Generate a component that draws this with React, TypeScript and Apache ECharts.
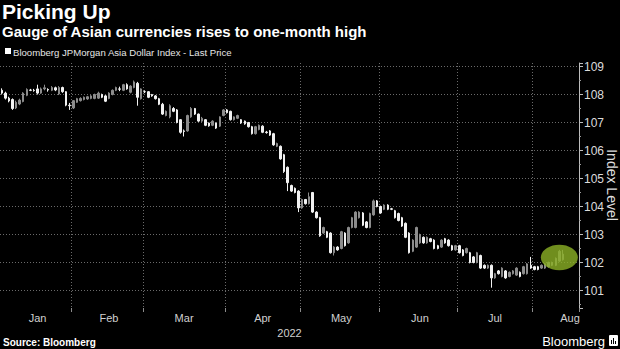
import React, { useEffect, useRef } from "react";
import * as echarts from "echarts";

// ---- data (weekday candles from Jan 4 to Aug 11, 2022) ----
const monthNames = ["Jan", "Feb", "Mar", "Apr", "May", "Jun", "Jul", "Aug"];
const monthWeekdays = [20, 20, 23, 21, 22, 22, 21, 13];
const monthLabelOffsets = [10, 10, 11, 10, 11, 11, 10, 10];
const yearLabel = "2022";
const yAxisTitle = "Index Level";

const openPrices = [
  108.15, 108.05, 107.87, 107.82, 107.52, 107.66, 107.75, 107.97, 108.16, 108.15,
  108.2, 108.05, 108.2, 108.18, 108.15, 108.24, 108.02, 108.25, 108.1, 107.62,
  107.52, 107.72, 107.78, 107.82, 107.84, 107.86, 107.86, 107.87, 108.0, 107.95,
  107.86, 108.0, 108.15, 108.2, 108.15, 108.35, 108.08, 108.25, 108.4, 107.85,
  108.1, 108.1, 108.0, 107.95, 107.85, 107.65, 107.25, 107.2, 107.5, 107.45,
  107.1, 106.7, 106.7, 107.2, 107.5, 107.3, 107.05, 107.1, 106.98, 106.9,
  106.98, 106.87, 107.25, 107.45, 107.4, 107.1, 107.15, 107.1, 107.05, 107.0,
  106.85, 106.6, 106.75, 106.87, 106.66, 106.7, 106.6, 106.15, 106.15, 105.85,
  105.4, 104.75, 104.65, 104.55, 103.95, 104.25, 104.1, 104.5, 103.8, 103.6,
  103.05, 103.1, 103.05, 102.35, 102.55, 102.5, 103.05, 102.7, 103.25, 103.25,
  103.6, 103.77, 103.45, 103.25, 103.7, 104.2, 104.0, 103.9, 104.05, 103.92,
  103.85, 103.75, 103.6, 103.4, 103.05, 102.4, 102.55, 102.7, 102.9, 102.7,
  102.85, 102.8, 102.6, 102.55, 102.85, 102.8, 102.6, 102.45, 102.6, 102.45,
  102.35, 102.35, 102.2, 102.0, 102.25, 101.9, 101.8, 101.9, 101.45, 101.7,
  101.5, 101.7, 101.5, 101.6, 101.55, 101.65, 101.6, 101.6, 101.9, 101.85,
  101.85, 101.8, 101.8, 101.85, 101.9, 101.9, 102.05, 102.1,
];
const closePrices = [
  108.05, 107.87, 107.77, 107.5, 107.72, 107.8, 108.05, 108.18, 108.15, 108.14,
  108.05, 108.2, 108.24, 108.16, 108.25, 108.16, 108.25, 108.1, 107.62, 107.6,
  107.78, 107.85, 107.86, 107.9, 107.92, 107.95, 108.0, 108.05, 107.9, 107.76,
  108.05, 108.15, 108.25, 108.19, 108.35, 108.2, 108.3, 108.45, 107.9, 108.2,
  108.1, 107.9, 107.95, 107.85, 107.65, 107.3, 107.4, 107.6, 107.4, 107.0,
  106.65, 106.68, 107.25, 107.5, 107.3, 107.05, 107.15, 106.9, 106.88, 107.05,
  106.8, 107.2, 107.45, 107.35, 107.1, 107.2, 107.25, 106.98, 106.95, 106.85,
  106.6, 106.85, 106.9, 106.65, 106.64, 106.55, 106.2, 106.25, 105.7, 105.25,
  104.85, 104.55, 104.5, 103.95, 104.25, 104.1, 104.35, 103.8, 103.6, 102.95,
  103.25, 102.9, 102.35, 102.55, 102.45, 103.1, 102.6, 103.25, 103.6, 103.8,
  103.8, 103.33, 103.25, 103.75, 104.2, 104.0, 103.77, 104.05, 103.9, 103.9,
  103.6, 103.5, 103.3, 102.9, 102.35, 102.8, 103.25, 103.0, 102.7, 102.9,
  102.75, 102.5, 102.5, 102.8, 102.7, 102.6, 102.45, 102.6, 102.35, 102.25,
  102.5, 102.0, 102.0, 102.35, 101.8, 101.8, 101.9, 101.45, 101.6, 101.6,
  101.8, 101.45, 101.65, 101.7, 101.8, 101.5, 101.85, 101.95, 101.8, 101.75,
  101.75, 101.9, 101.95, 102.0, 102.0, 102.15, 102.4, 102.3,
];
const highPrices = [
  108.22, 108.1, 107.92, 107.86, 107.78, 107.85, 108.08, 108.22, 108.2, 108.2,
  108.35, 108.25, 108.35, 108.22, 108.3, 108.28, 108.3, 108.28, 108.12, 107.7,
  107.8, 107.88, 107.9, 107.93, 107.95, 107.98, 108.03, 108.1, 108.03, 107.98,
  108.08, 108.18, 108.28, 108.28, 108.38, 108.4, 108.33, 108.5, 108.45, 108.22,
  108.15, 108.12, 108.02, 107.98, 107.88, 107.7, 107.43, 107.65, 107.55, 107.48,
  107.12, 106.75, 107.28, 107.55, 107.52, 107.32, 107.2, 107.12, 107.0, 107.08,
  107.0, 107.22, 107.48, 107.48, 107.42, 107.22, 107.28, 107.12, 107.07, 107.02,
  106.88, 106.88, 106.93, 106.9, 106.7, 106.73, 106.63, 106.28, 106.18, 105.88,
  105.43, 104.78, 104.68, 104.58, 104.28, 104.27, 104.5, 104.52, 103.83, 103.63,
  103.28, 103.13, 103.08, 102.58, 102.58, 103.13, 103.08, 103.28, 103.63, 103.83,
  103.83, 103.8, 103.48, 103.78, 104.25, 104.23, 104.03, 104.08, 104.08, 103.95,
  103.88, 103.78, 103.63, 103.43, 103.08, 102.83, 103.28, 103.03, 102.93, 102.93,
  102.88, 102.83, 102.63, 102.83, 102.88, 102.83, 102.63, 102.63, 102.63, 102.48,
  102.53, 102.38, 102.23, 102.38, 102.28, 101.93, 101.93, 101.93, 101.63, 101.73,
  101.83, 101.73, 101.68, 101.73, 101.83, 101.68, 101.88, 101.98, 102.2, 101.88,
  101.88, 101.93, 101.98, 102.03, 102.03, 102.18, 102.45, 102.45,
];
const lowPrices = [
  108.0, 107.82, 107.72, 107.45, 107.48, 107.62, 107.72, 107.94, 108.12, 108.1,
  108.0, 108.02, 108.15, 108.1, 108.12, 108.12, 107.98, 108.06, 107.58, 107.45,
  107.48, 107.7, 107.75, 107.79, 107.81, 107.83, 107.83, 107.84, 107.87, 107.73,
  107.83, 107.97, 108.12, 108.12, 108.12, 108.17, 108.04, 108.22, 107.6, 107.82,
  108.05, 107.87, 107.92, 107.82, 107.62, 107.27, 107.22, 107.15, 107.37, 106.97,
  106.6, 106.5, 106.67, 107.17, 107.27, 107.02, 107.02, 106.87, 106.85, 106.87,
  106.77, 106.84, 107.22, 107.32, 107.07, 107.07, 107.12, 106.95, 106.92, 106.82,
  106.57, 106.57, 106.72, 106.62, 106.6, 106.52, 106.17, 106.12, 105.67, 105.2,
  104.55, 104.52, 104.47, 103.8, 103.92, 104.07, 104.07, 103.77, 103.57, 102.92,
  103.02, 102.87, 102.32, 102.25, 102.42, 102.47, 102.57, 102.67, 103.22, 103.22,
  103.57, 103.3, 103.22, 103.22, 103.67, 103.97, 103.74, 103.87, 103.87, 103.87,
  103.57, 103.47, 103.27, 102.87, 102.32, 102.37, 102.52, 102.67, 102.67, 102.67,
  102.72, 102.47, 102.47, 102.52, 102.67, 102.57, 102.42, 102.42, 102.32, 102.22,
  102.32, 101.97, 101.97, 101.97, 101.77, 101.77, 101.77, 101.1, 101.42, 101.57,
  101.47, 101.42, 101.47, 101.57, 101.52, 101.47, 101.57, 101.57, 101.77, 101.72,
  101.72, 101.77, 101.77, 101.82, 101.87, 101.87, 102.02, 102.07,
];

// highlight annotation around the latest candles
const highlightIndex = 156;
const highlightValue = 102.18;

// ---- build categories (one per weekday) ----
const categories: string[] = [];
const monthStartIdx: number[] = [];
const labelIdx: number[] = [];
monthNames.forEach((m, mi) => {
  monthStartIdx.push(categories.length);
  labelIdx.push(categories.length + monthLabelOffsets[mi]);
  for (let k = 0; k < monthWeekdays[mi]; k++) categories.push(m + " " + (k + 1));
});
const boundaryIdx = monthStartIdx.slice(1);

const candleData = openPrices.map((o, i) => [o, closePrices[i], lowPrices[i], highPrices[i]]);

const FONT = '"Liberation Sans", Arial, sans-serif';

export default function App() {
  const ref = useRef<HTMLDivElement>(null);

  useEffect(() => {
    if (!ref.current) return;
    const chart = echarts.init(ref.current, null, { renderer: "svg" });
    const gridColor = "#6a6a6a";
    chart.setOption({
      animation: false,
      backgroundColor: "#000000",
      textStyle: { fontFamily: FONT },
      grid: { left: 0, right: 41, top: 63, bottom: 41, containLabel: false, outerBoundsMode: "none" },
      xAxis: {
        type: "category",
        data: categories,
        boundaryGap: true,
        axisLine: { show: false },
        axisTick: {
          show: true,
          length: 4,
          interval: (i: number) => boundaryIdx.includes(i),
          lineStyle: { color: "#8a8a8a" },
        },
        splitLine: {
          show: true,
          interval: (i: number) => boundaryIdx.includes(i),
          lineStyle: { color: gridColor, type: [1, 2], width: 1 },
        },
        axisLabel: {
          interval: (i: number) => labelIdx.includes(i),
          formatter: (v: string) => v.split(" ")[0],
          color: "#d0d0d0",
          fontSize: 11,
          margin: 4,
          fontFamily: FONT,
        },
        name: yearLabel,
        nameLocation: "middle",
        nameGap: 14,
        nameTextStyle: { color: "#d0d0d0", fontSize: 11, fontFamily: FONT, verticalAlign: "top" },
      },
      yAxis: {
        type: "value",
        position: "right",
        min: 100.375,
        max: 109.125,
        splitNumber: 8,
        axisLine: { show: true, lineStyle: { color: "#bdbdbd", width: 1 } },
        axisTick: { show: true, inside: false, length: 4, lineStyle: { color: "#bdbdbd" } },
        minorTick: { show: true, splitNumber: 2, length: 2, lineStyle: { color: "#9a9a9a" } },
        splitLine: {
          show: true,
          showMinLine: false,
          showMaxLine: false,
          lineStyle: { color: gridColor, type: [1, 2], width: 1 },
        },
        axisLabel: {
          color: "#dcdcdc",
          fontSize: 12,
          margin: 5,
          showMinLabel: false,
          showMaxLabel: false,
          fontFamily: FONT,
          formatter: (v: number) => (Math.abs(v - Math.round(v)) < 1e-6 ? String(Math.round(v)) : ""),
        },
      },
      series: [
        {
          type: "candlestick",
          data: candleData,
          barWidth: 2,
          z: 2,
          itemStyle: {
            color: "#8c8c8c",
            color0: "#f2f2f2",
            borderColor: "#8c8c8c",
            borderColor0: "#f2f2f2",
            borderWidth: 1,
          },
        },
      ],
      graphic: [
        {
          type: "text",
          x: 2,
          y: 11,
          style: { text: "Picking Up", fill: "#ffffff", font: `bold 21px ${FONT}`, verticalAlign: "middle" },
        },
        {
          type: "text",
          x: 2,
          y: 31,
          style: {
            text: "Gauge of Asian currencies rises to one-month high",
            fill: "#ffffff",
            font: `bold 15px ${FONT}`,
            verticalAlign: "middle",
          },
        },
        { type: "rect", shape: { x: 5, y: 48, width: 6, height: 6 }, style: { fill: "#ffffff" } },
        {
          type: "text",
          x: 13,
          y: 52,
          style: {
            text: "Bloomberg JPMorgan Asia Dollar Index - Last Price",
            fill: "#e6e6e6",
            font: `9.6px ${FONT}`,
            verticalAlign: "middle",
          },
        },
        {
          type: "text",
          x: 612,
          y: 185,
          rotation: -Math.PI / 2,
          style: {
            text: yAxisTitle,
            fill: "#dcdcdc",
            font: `14px ${FONT}`,
            align: "center",
            verticalAlign: "middle",
          },
        },
        {
          type: "text",
          x: 3,
          y: 342,
          style: { text: "Source: Bloomberg", fill: "#ffffff", font: `bold 10px ${FONT}`, verticalAlign: "middle" },
        },
        {
          type: "text",
          x: 605,
          y: 341,
          style: { text: "Bloomberg", fill: "#ffffff", font: `13px ${FONT}`, align: "right", verticalAlign: "middle" },
        },
        { type: "rect", shape: { x: 609, y: 335, width: 9, height: 11, r: 1 }, style: { fill: "#ffffff" } },
        { type: "rect", shape: { x: 611, y: 340, width: 1, height: 4 }, style: { fill: "#000000" } },
        { type: "rect", shape: { x: 613, y: 338, width: 1, height: 6 }, style: { fill: "#000000" } },
        { type: "rect", shape: { x: 615, y: 341, width: 1, height: 3 }, style: { fill: "#000000" } },
      ],
    });

    const c = chart.convertToPixel({ xAxisIndex: 0, yAxisIndex: 0 }, [highlightIndex, highlightValue]) as number[];
    chart.setOption({
      graphic: [
        {
          id: "highlight",
          type: "ellipse",
          shape: { cx: c[0], cy: c[1], rx: 18.5, ry: 12.7 },
          style: { fill: "rgba(140, 178, 38, 0.8)" },
          z: 10,
        },
      ],
    });

    return () => chart.dispose();
  }, []);

  return (
    <div
      ref={ref}
      style={{ position: "absolute", left: 0, top: 0, width: 620, height: 349, background: "#000" }}
    />
  );
}
